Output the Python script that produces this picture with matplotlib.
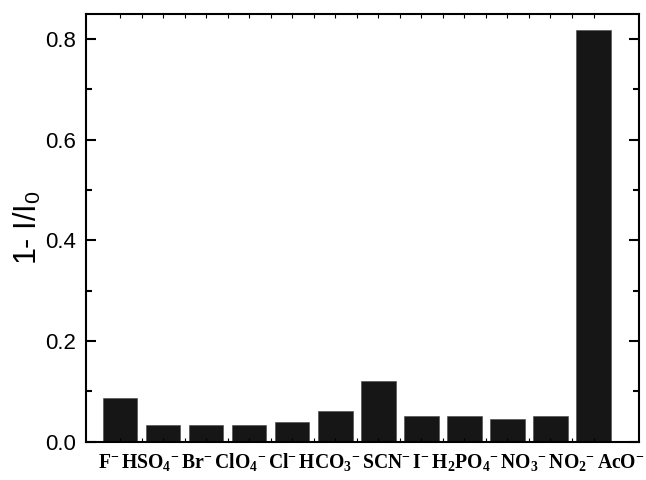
import numpy as np
import matplotlib
matplotlib.use('Agg')
import matplotlib.pyplot as plt
from matplotlib.ticker import MultipleLocator

plt.rcParams['font.family'] = ['Liberation Sans', 'DejaVu Sans']
plt.rcParams['mathtext.fontset'] = 'custom'
plt.rcParams['mathtext.rm'] = 'Liberation Serif:bold'
plt.rcParams['mathtext.bf'] = 'Liberation Serif:bold'
plt.rcParams['mathtext.it'] = 'Liberation Serif:bold'
plt.rcParams['mathtext.sf'] = 'Liberation Sans'

# anions and quenching values
anions = ['F^{-}', 'HSO_4{}^{-}', 'Br^{-}', 'ClO_4{}^{-}', 'Cl^{-}', 'HCO_3{}^{-}',
          'SCN^{-}', 'I^{-}', 'H_2PO_4{}^{-}', 'NO_3{}^{-}', 'NO_2{}^{-}', 'AcO^{-}']
quench = [0.086, 0.034, 0.034, 0.034, 0.040, 0.061,
          0.121, 0.051, 0.051, 0.046, 0.051, 0.818]

fig = plt.figure(figsize=(6.46, 4.8), dpi=100)
ax = fig.add_axes([0.1327, 0.0798, 0.856, 0.891])

x = np.arange(len(anions))
ax.bar(x, quench, width=0.8, color='#161616', edgecolor='#444444', linewidth=0.4)

ax.set_xlim(-0.8, 12.05)
ax.set_ylim(0, 0.85)

ax.yaxis.set_major_locator(MultipleLocator(0.2))
ax.yaxis.set_minor_locator(MultipleLocator(0.1))
ax.set_xticks(x)
ax.set_xticks(x[:-1] + 0.5, minor=True)
ax.set_xticklabels([])
ax.tick_params(axis='y', which='major', direction='in', length=7, width=1.5,
               left=True, right=True, labelsize=16, pad=7)
ax.tick_params(axis='y', which='minor', direction='in', length=4, width=1.5,
               left=True, right=True)
ax.tick_params(axis='x', which='both', direction='in', length=3, width=0.8,
               bottom=True, top=True)
for s in ax.spines.values():
    s.set_linewidth(1.5)

ax.set_ylabel('1- I/I$_{\\mathsf{0}}$', fontsize=22, labelpad=1)

# anion names written as one line beneath the axis, as in the source figure
label_line = '$\\mathbf{' + '\\,'.join(anions) + '}$'
fig.text(0.574, 0.037, label_line, fontsize=14.1, ha='center', va='center')

fig.savefig('out.png', dpi=100)
